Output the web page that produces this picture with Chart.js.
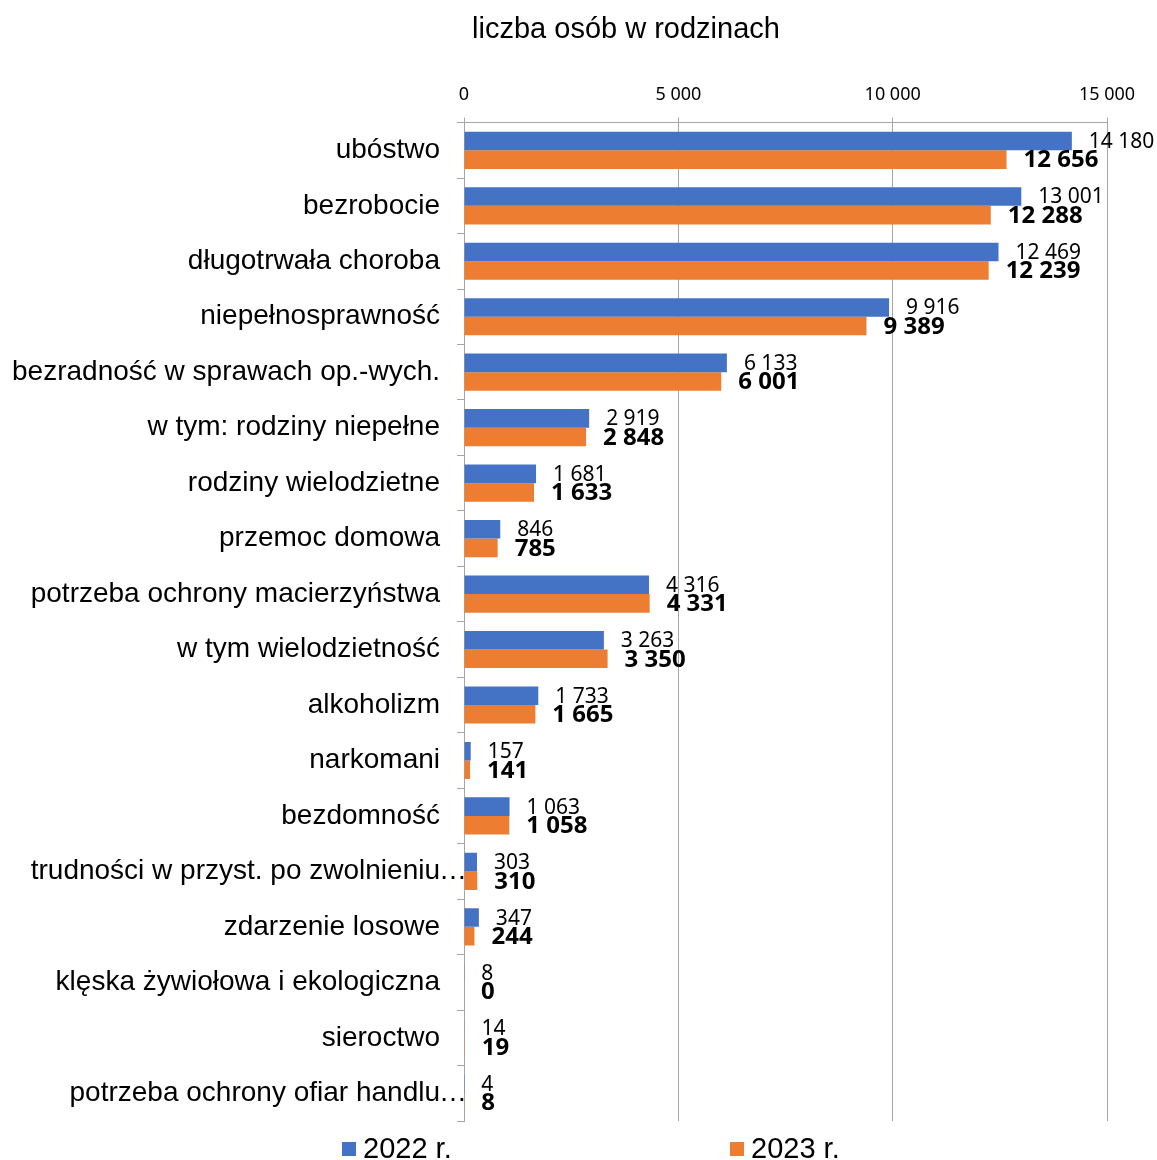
<!DOCTYPE html>
<html>
<head>
<meta charset="utf-8">
<script src="https://cdn.jsdelivr.net/npm/chart.js@4.4.0/dist/chart.umd.min.js"></script>
<style>
  html, body { margin: 0; padding: 0; background: #fff; }
  #wrap { width: 1157px; height: 1160px; }
</style>
</head>
<body>
<div id="wrap"><canvas id="chart" width="1157" height="1160"></canvas></div>
<script>
// categories (top to bottom)
const categories = [
  "ubóstwo",
  "bezrobocie",
  "długotrwała choroba",
  "niepełnosprawność",
  "bezradność w sprawach op.-wych.",
  "w tym: rodziny niepełne",
  "rodziny wielodzietne",
  "przemoc domowa",
  "potrzeba ochrony macierzyństwa",
  "w tym wielodzietność",
  "alkoholizm",
  "narkomani",
  "bezdomność",
  "trudności w przyst. po zwolnieniu…",
  "zdarzenie losowe",
  "klęska żywiołowa i ekologiczna",
  "sieroctwo",
  "potrzeba ochrony ofiar handlu…"
];

const values2022 = [14180, 13001, 12469, 9916, 6133, 2919, 1681, 846, 4316, 3263, 1733, 157, 1063, 303, 347, 8, 14, 4];
const values2023 = [12656, 12288, 12239, 9389, 6001, 2848, 1633, 785, 4331, 3350, 1665, 141, 1058, 310, 244, 0, 19, 8];

const xTicks = [0, 5000, 10000, 15000];
const seriesNames = ["2022 r.", "2023 r."];
const chartTitle = "liczba osób w rodzinach";

const BLUE = "#4472C4";
const ORANGE = "#ED7D31";
const GRID = "#a6a6a6";
const ELLIPSIS = "…";

const fmt = (v) => String(v).replace(/\B(?=(\d{3})+(?!\d))/g, " ");

// value labels, truncation dots, title and legend drawn on the canvas
const extras = {
  id: "extras",
  afterDatasetsDraw(chart) {
    const ctx = chart.ctx;
    ctx.save();
    ctx.fillStyle = "#000";
    ctx.textAlign = "left";
    ctx.textBaseline = "middle";
    chart.data.datasets.forEach((ds, i) => {
      const meta = chart.getDatasetMeta(i);
      ctx.font = i === 0 ? "21px 'Noto Sans'" : "bold 24px 'Noto Sans'";
      meta.data.forEach((bar, j) => {
        ctx.fillText(fmt(ds.data[j]), bar.x + 17, bar.y + 1);
      });
    });

    // the "…" of cut category names runs past the label edge, as in Excel
    const y = chart.scales.y;
    ctx.font = "28px 'Liberation Sans'";
    categories.forEach((c, j) => {
      if (c.endsWith(ELLIPSIS)) {
        ctx.fillText(ELLIPSIS, 439, y.getPixelForValue(j));
      }
    });

    // title
    ctx.font = "29px 'Liberation Sans'";
    ctx.textAlign = "center";
    ctx.fillText(chartTitle, 626, 30);

    // legend
    const ly = 1149;
    const lx = [342, 730];
    const colors = [BLUE, ORANGE];
    ctx.textAlign = "left";
    ctx.font = "29px 'Liberation Sans'";
    seriesNames.forEach((name, i) => {
      ctx.fillStyle = colors[i];
      ctx.fillRect(lx[i], ly - 7, 14, 14);
      ctx.fillStyle = "#000";
      ctx.fillText(name, lx[i] + 21, ly + 1);
    });
    ctx.restore();
  }
};

new Chart(document.getElementById("chart"), {
  type: "bar",
  data: {
    labels: categories,
    datasets: [
      { label: seriesNames[0], data: values2022, backgroundColor: BLUE },
      { label: seriesNames[1], data: values2023, backgroundColor: ORANGE }
    ]
  },
  options: {
    indexAxis: "y",
    responsive: false,
    animation: false,
    categoryPercentage: 0.67,
    barPercentage: 1,
    layout: { padding: { top: 72, right: 50, bottom: 39, left: 0 } },
    plugins: {
      legend: { display: false },
      title: { display: false },
      tooltip: { enabled: false }
    },
    scales: {
      x: {
        position: "top",
        min: 0,
        max: 15000,
        afterBuildTicks(scale) {
          scale.ticks = xTicks.map((v) => ({ value: v }));
        },
        ticks: {
          callback: (v) => fmt(v),
          font: { family: "'Noto Sans'", size: 18 },
          color: "#000",
          padding: 12
        },
        grid: { color: GRID, lineWidth: 1, tickLength: 5 },
        border: { color: GRID }
      },
      y: {
        afterFit(scale) { scale.width = 464; },
        ticks: {
          callback(v) {
            const c = categories[v];
            return c.endsWith(ELLIPSIS) ? c.slice(0, -1) : c;
          },
          font: { family: "'Liberation Sans'", size: 28 },
          color: "#000",
          padding: 17,
          autoSkip: false
        },
        grid: { drawOnChartArea: false, offset: true, tickLength: 7, color: GRID },
        border: { color: GRID }
      }
    }
  },
  plugins: [extras]
});
</script>
</body>
</html>
